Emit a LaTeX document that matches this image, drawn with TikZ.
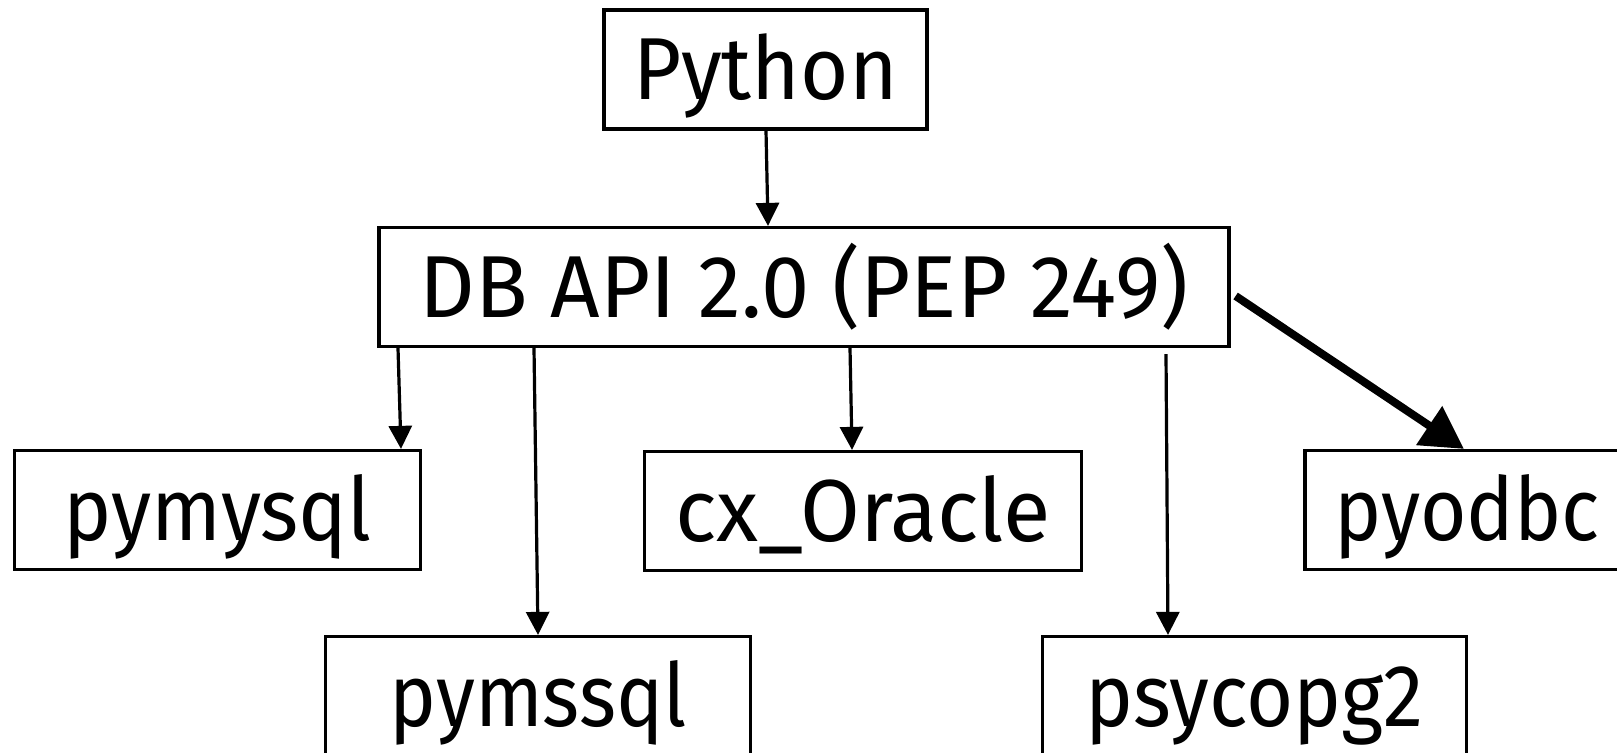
\documentclass[tikz,border=0pt]{standalone}
\usepackage{graphicx}
\usepackage{fontspec}
\setmainfont{Fira Sans}
\usetikzlibrary{arrows.meta,calc}
\newcommand{\sxtext}[2]{\scalebox{#1}[1]{#2}}
\tikzset{
  box/.style={draw=black, line width=1.6pt, rectangle, inner sep=0pt, minimum height=59.5pt,
    font=\fontsize{44pt}{50pt}\selectfont, text height=30.3pt, text depth=0pt},
  arr/.style={draw=black, line width=1.6pt, -{Triangle[length=11.5pt,width=11.5pt]}},
  bigarr/.style={draw=black, line width=4pt, -{Triangle[length=21pt,width=22.5pt]}}
}
\begin{document}
\begin{tikzpicture}[x=0.5pt,y=-0.5pt]
\useasboundingbox (0,0) rectangle (1617,753);
\clip (0,0) rectangle (1617,753);
\fill[white] (0,0) rectangle (1617,753);
\node[box, minimum width=161.5pt] (py) at (765.5,69.5) {\sxtext{0.943}{Python}};
\node[box, minimum width=425pt] (db) at (804,287) {\sxtext{0.983}{DB API 2.0 (PEP 249)}};
\node[box, minimum width=203pt] (mysql) at (217.5,510) {\sxtext{0.927}{pymysql}};
\node[box, minimum width=218.75pt] (oracle) at (863,511) {\sxtext{0.984}{cx\_Oracle}};
\node[box, minimum width=162pt] (odbc) at (1467,510) {\sxtext{0.906}{pyodbc}};
\node[box, minimum width=212.5pt] (mssql) at (538,696) {\sxtext{0.9}{pymssql}};
\node[box, minimum width=212pt] (psyco) at (1254.6,696) {\sxtext{0.92}{psycopg2}};
\draw[arr] ($(py.south)+(0.5,0)$) -- ($(db.north)+(-36,0)$);
\draw[arr] ($(db.south)+(-406,0)$) -- ($(mysql.north)+(183.5,0)$);
\draw[arr] ($(db.south)+(-270,0)$) -- ($(mssql.north)+(0,0)$);
\draw[arr] ($(db.south)+(46,0)$) -- ($(oracle.north)+(-11,0)$);
\draw[arr] ($(db.south)+(362,6)$) -- ($(psyco.north)+(-86.6,0)$);
\draw[bigarr] ($(db.east)+(5,9)$) -- ($(odbc.north)+(-3,0)$);
\end{tikzpicture}
\end{document}
